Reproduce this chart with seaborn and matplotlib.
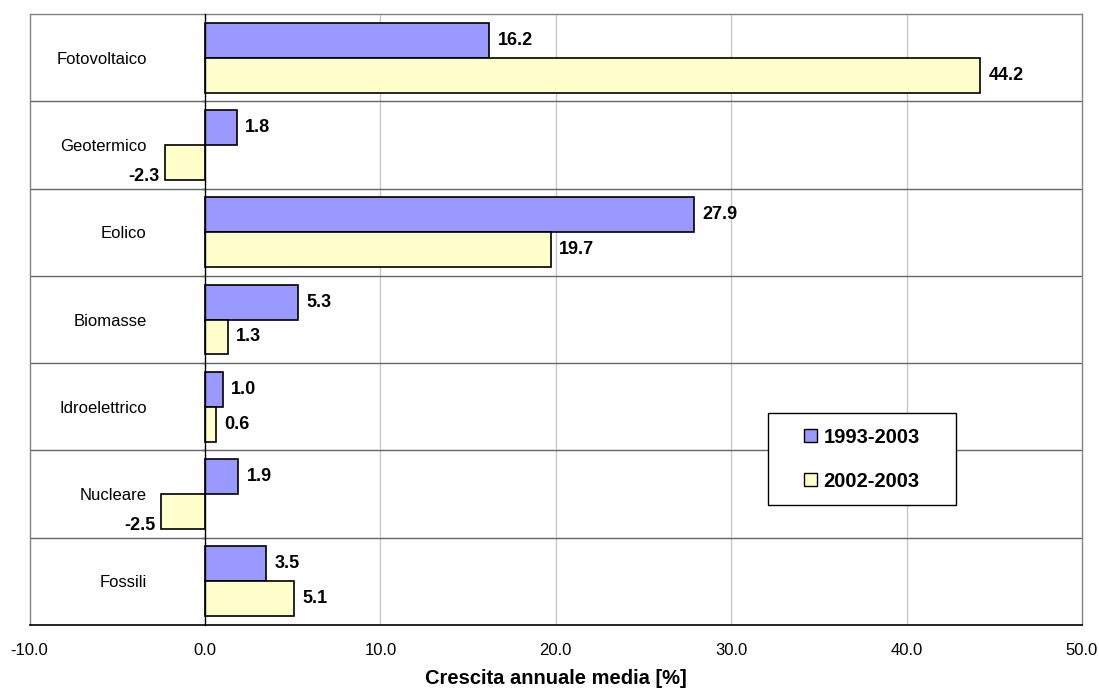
import matplotlib
matplotlib.use("Agg")
import matplotlib.pyplot as plt
import seaborn as sns
import pandas as pd
from matplotlib.lines import Line2D
from matplotlib.patches import Rectangle
from matplotlib.ticker import FixedLocator

# Energy sources and their average annual growth rates [%]
categories = ["Fotovoltaico", "Geotermico", "Eolico", "Biomasse",
              "Idroelettrico", "Nucleare", "Fossili"]
periods = ["1993-2003", "2002-2003"]
growth_1993_2003 = [16.2, 1.8, 27.9, 5.3, 1.0, 1.9, 3.5]
growth_2002_2003 = [44.2, -2.3, 19.7, 1.3, 0.6, -2.5, 5.1]
x_ticks = [-10, 0, 10, 20, 30, 40, 50]

series = {periods[0]: growth_1993_2003, periods[1]: growth_2002_2003}
df = pd.DataFrame(
    [{"Fonte": c, "Periodo": p, "Crescita": v}
     for p in periods for c, v in zip(categories, series[p])]
)

sns.set_theme(style="white")
plt.rcParams["font.family"] = ["Liberation Sans", "DejaVu Sans"]
plt.rcParams.update({"text.color": "black", "axes.labelcolor": "black",
                     "xtick.color": "black", "ytick.color": "black"})

fig = plt.figure(figsize=(10.99, 6.90), dpi=100)
ax = fig.add_axes([0.02693, 0.09420, 0.95759, 0.88551])

palette = {periods[0]: "#9999FF", periods[1]: "#FFFFCC"}
sns.barplot(data=df, y="Fonte", x="Crescita", hue="Periodo",
            order=categories, hue_order=periods, palette=palette,
            orient="h", width=0.8, edgecolor="black", linewidth=1.2,
            saturation=1, errorbar=None, ax=ax, zorder=3)

ax.set_xlim(x_ticks[0], x_ticks[-1])
ax.set_ylim(len(categories) - 0.5, -0.5)

# vertical gridlines
for xv in x_ticks[1:-1]:
    if xv != 0:
        ax.axvline(xv, color="#c8c8c8", lw=1.0, zorder=1)

# category separators
for i in range(len(categories) - 1):
    ax.axhline(i + 0.5, color="#666666", lw=1.0, zorder=2)

# frame
for side in ("top", "right"):
    ax.spines[side].set_color("#808080")
    ax.spines[side].set_linewidth(1.0)
ax.spines["bottom"].set_color("black")
ax.spines["bottom"].set_linewidth(1.2)
ax.spines["left"].set_position(("data", 0))
ax.spines["left"].set_color("black")
ax.spines["left"].set_linewidth(1.0)
ax.spines["left"].set_zorder(4)
ax.add_line(Line2D([0, 0], [0, 1], transform=ax.transAxes,
                   color="#808080", lw=1.0, clip_on=False))

# x axis
ax.set_xticks(x_ticks)
ax.set_xticklabels([f"{v:.1f}" for v in x_ticks], fontsize=12)
ax.tick_params(axis="x", direction="out", length=5, width=1,
               color="black", pad=8)
ax.set_xlabel("Crescita annuale media [%]", fontsize=14.5,
              fontweight="bold", labelpad=8)

# y axis: category names to the left of the zero line
ax.set_ylabel("")
ax.set_yticks(range(len(categories)))
ax.set_yticklabels(categories, fontsize=12)
ax.tick_params(axis="y", which="major", length=0, pad=42)
ax.yaxis.set_minor_locator(FixedLocator([i + 0.5 for i in range(len(categories) - 1)]))
ax.tick_params(axis="y", which="minor", direction="out", length=3,
               width=1, color="#808080", left=True)

# value labels
for container, vals in zip(ax.containers, [growth_1993_2003, growth_2002_2003]):
    for bar, v in zip(container, vals):
        yc = bar.get_y() + bar.get_height() / 2
        if v >= 0:
            ax.annotate(f"{v:.1f}", (v, yc), xytext=(6, 0),
                        textcoords="offset points", ha="left", va="center",
                        fontsize=13, fontweight="bold", zorder=5)
        else:
            ax.annotate(f"{v:.1f}", (v, yc), xytext=(-4, -10),
                        textcoords="offset points", ha="right", va="center",
                        fontsize=13, fontweight="bold", zorder=5)

# legend: boxed, entries centred inside the box
box = (0.7017, 0.196, 0.1786, 0.151)
ax.add_patch(Rectangle(box[:2], box[2], box[3], transform=ax.transAxes,
                       facecolor="white", edgecolor="black", lw=1.0,
                       zorder=6, clip_on=False))
handles, labels = ax.get_legend_handles_labels()
leg = ax.legend(handles, labels, loc="center",
                bbox_to_anchor=(box[0] + box[2] / 2, box[1] + box[3] / 2),
                borderaxespad=0, frameon=False, borderpad=0.0,
                labelspacing=1.25, handlelength=0.65, handleheight=0.65,
                handletextpad=0.3, prop={"weight": "bold", "size": 14.5})
for h in leg.legend_handles:
    h.set_edgecolor("black")
    h.set_linewidth(1.0)
leg.set_zorder(7)

fig.savefig("out.png", dpi=100, facecolor="white")
